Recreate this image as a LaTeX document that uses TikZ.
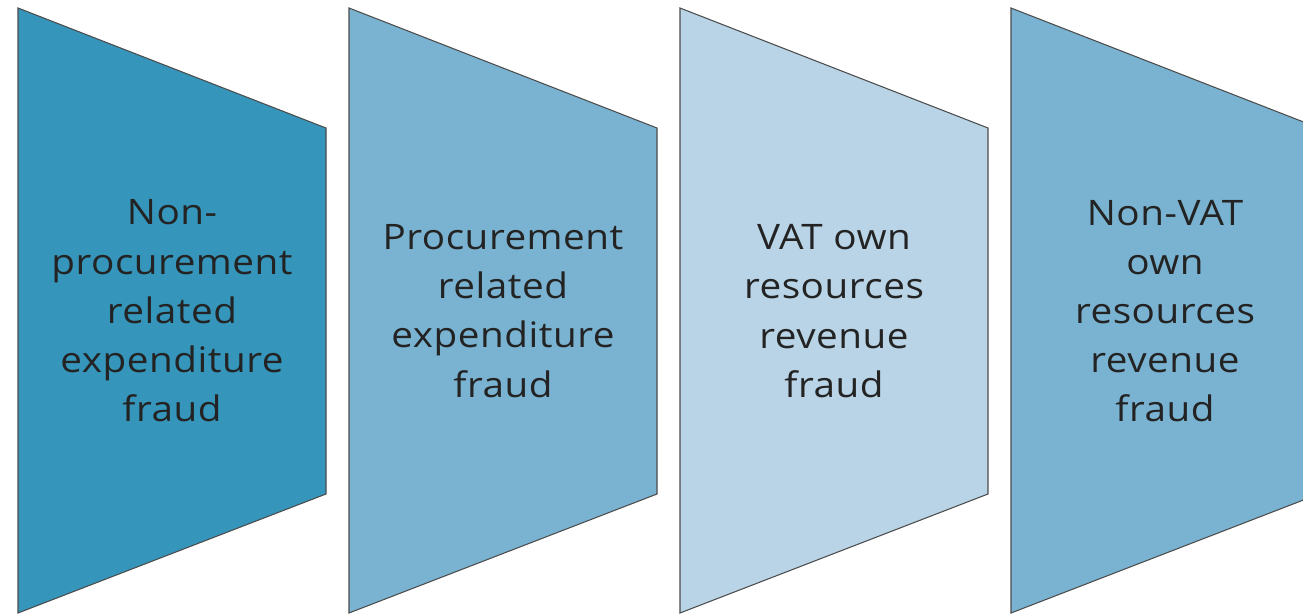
\documentclass[tikz,border=0pt]{standalone}
\usepackage{fontspec}
\setmainfont{Open Sans}
\newfontfamily\widesans[FakeStretch=1.1,LetterSpace=1.5]{Open Sans}
\definecolor{dark}{HTML}{3595BA}
\definecolor{mid}{HTML}{7AB3D1}
\definecolor{pale}{HTML}{B8D4E6}
\definecolor{ink}{HTML}{232323}

\begin{document}
\begin{tikzpicture}[x=0.02cm,y=-0.02cm]
\tikzset{funnel/.style={draw=black!70, line width=0.6pt},
  fraudtext/.style={text=ink, align=center, font=\widesans\fontsize{20}{28}\selectfont}}
\clip (0,0) rectangle (1303,613);
\foreach \x/\c in {18/dark,349/mid,680/pale,1011/mid}
  \draw[funnel, fill=\c] (\x,8) -- (\x+308,128) -- (\x+308,494) -- (\x,613) -- cycle;
\node[fraudtext] (nonproc) at (172,311) {Non-\\procurement\\related\\expenditure\\fraud};
\node[fraudtext] (proc) at (503,311) {Procurement\\related\\expenditure\\fraud};
\node[fraudtext] (vat) at (834,311) {VAT own\\resources\\revenue\\fraud};
\node[fraudtext] (nonvat) at (1165,311) {Non-VAT\\own\\resources\\revenue\\fraud};
\end{tikzpicture}
\end{document}
